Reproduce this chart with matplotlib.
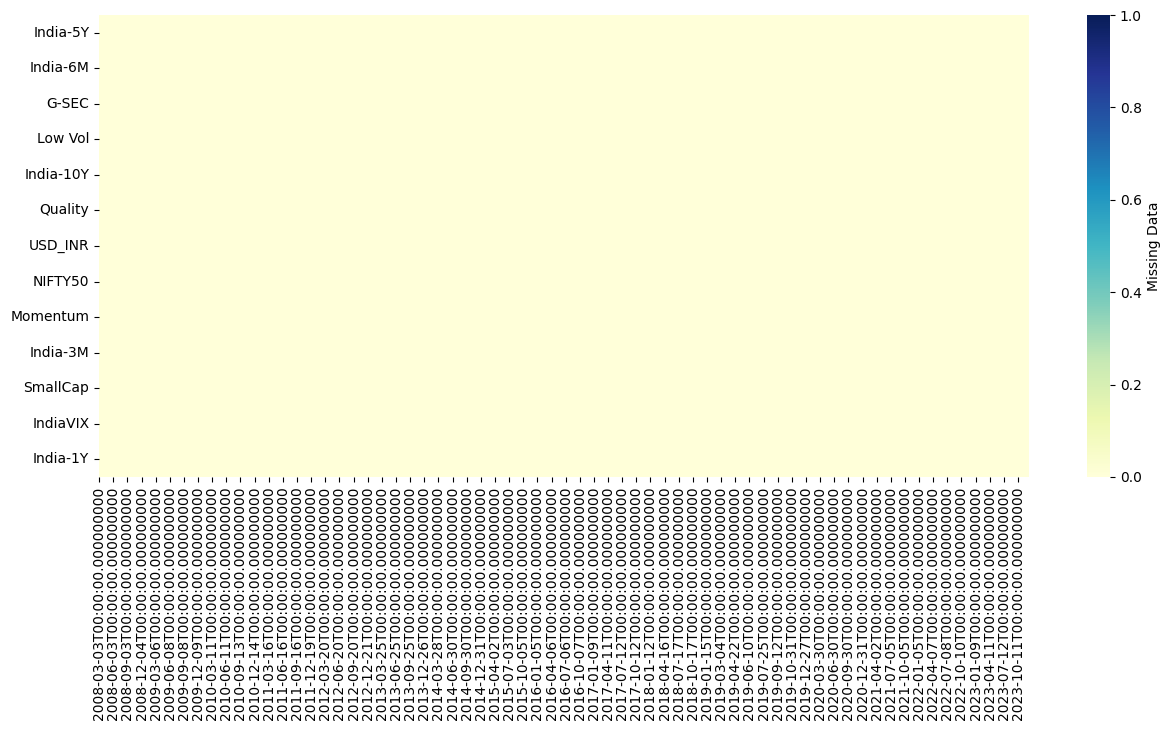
import numpy as np
import pandas as pd
import matplotlib
matplotlib.use("Agg")
import matplotlib.pyplot as plt
import seaborn as sns

features = ["India-5Y", "India-6M", "G-SEC", "Low Vol", "India-10Y", "Quality",
            "USD_INR", "NIFTY50", "Momentum", "India-3M", "SmallCap", "IndiaVIX", "India-1Y"]

tick_dates = [
    "2008-03-03", "2008-06-03", "2008-09-03", "2008-12-04",
    "2009-03-06", "2009-06-08", "2009-09-08", "2009-12-09",
    "2010-03-11", "2010-06-11", "2010-09-13", "2010-12-14",
    "2011-03-16", "2011-06-16", "2011-09-16", "2011-12-19",
    "2012-03-20", "2012-06-20", "2012-09-20", "2012-12-21",
    "2013-03-25", "2013-06-25", "2013-09-25", "2013-12-26",
    "2014-03-28", "2014-06-30", "2014-09-30", "2014-12-31",
    "2015-04-02", "2015-07-03", "2015-10-05",
    "2016-01-05", "2016-04-06", "2016-07-06", "2016-10-07",
    "2017-01-09", "2017-04-11", "2017-07-12", "2017-10-12",
    "2018-01-12", "2018-04-16", "2018-07-17", "2018-10-17",
    "2019-01-15", "2019-03-04", "2019-04-22", "2019-06-10", "2019-07-25",
    "2019-09-12", "2019-10-31", "2019-12-27",
    "2020-03-30", "2020-06-30", "2020-09-30", "2020-12-31",
    "2021-04-02", "2021-07-05", "2021-10-05",
    "2022-01-05", "2022-04-07", "2022-07-08", "2022-10-10",
    "2023-01-09", "2023-04-11", "2023-07-12", "2023-10-11",
]

n_rows = 3947          # number of dated rows in the dataset
tick_step = 60         # rows between labelled ticks
missing = np.zeros((len(features), n_rows))   # no missing values anywhere

W, H = 1171, 733
fig = plt.figure(figsize=(W / 100, H / 100), dpi=100)
ax = fig.add_axes([99 / W, 1 - 477 / H, 930 / W, 462 / H])
cax = fig.add_axes([1087 / W, 1 - 477 / H, 23 / W, 462 / H])

sns.heatmap(missing, cmap="YlGnBu", vmin=0, vmax=1, ax=ax, cbar_ax=cax,
            cbar_kws={"label": "Missing Data"},
            xticklabels=False, yticklabels=features)

ax.set_xticks(np.arange(len(tick_dates)) * tick_step + 0.5)
ax.set_xticklabels([d + "T00:00:00.000000000" for d in tick_dates], rotation=90)
ax.set_yticklabels(features, rotation=0)
ax.tick_params(axis="both", labelsize=10)
cax.tick_params(labelsize=10)

fig.savefig("out.png", dpi=100)
